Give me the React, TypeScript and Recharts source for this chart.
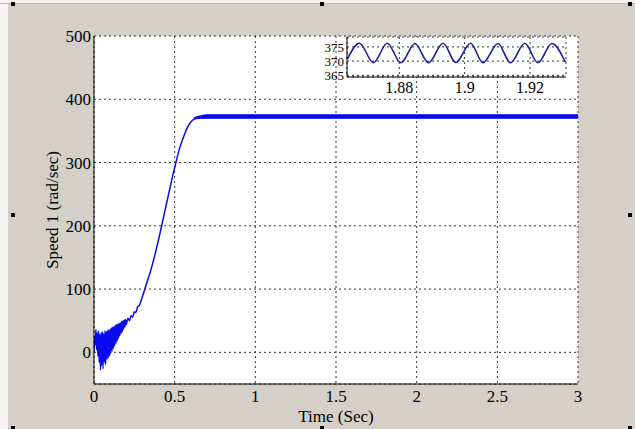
import { ComposedChart, LineChart, Line, Area, XAxis, YAxis, CartesianGrid } from 'recharts';

// main trace (sec, rad/sec)
const mainTime = [
  0, 0.004, 0.008, 0.012, 0.016, 0.02, 0.024, 0.028, 0.032, 0.036, 0.04, 0.044, 0.048, 0.052, 0.056,
  0.06, 0.064, 0.068, 0.072, 0.076, 0.08, 0.084, 0.088, 0.092, 0.096, 0.1, 0.104, 0.108, 0.112,
  0.116, 0.12, 0.124, 0.128, 0.132, 0.136, 0.14, 0.144, 0.148, 0.152, 0.156, 0.16, 0.164, 0.168,
  0.172, 0.176, 0.18, 0.184, 0.188, 0.192, 0.196, 0.2, 0.21, 0.22, 0.23, 0.24, 0.25, 0.26, 0.27,
  0.28, 0.3, 0.32, 0.35, 0.4, 0.45, 0.5, 0.53, 0.56, 0.58, 0.6, 0.62, 0.64, 0.67, 0.7,
];
const mainSpeed = [
  0, 26, 12, 36, 4, 31, -6, 34, -16, 29, -28, 31, -21, 33, -26,
  30, -16, 34, -19, 33, -11, 35, -9, 36, -6, 37, -2, 39, 2,
  40, 6, 41, 10, 43, 14, 44, 18, 45, 22, 46, 26, 47, 30,
  49, 33, 50, 37, 51, 40, 52, 44, 54, 50, 58, 56, 64, 63, 72,
  74, 88, 104, 128, 178, 236, 292, 322, 344, 356, 364, 368.5, 370.8, 372.3, 372.7,
];

// steady-state ripple band
const bandTime = [0.62, 0.7, 3];
const bandLow = [369, 370, 370];
const bandHigh = [371, 375.5, 375.5];

// zoomed inset: peaks and troughs
const insetTime = [
  1.8641, 1.8678, 1.8721, 1.8763, 1.8805, 1.8848, 1.8889, 1.8934, 1.8973,
  1.9018, 1.9056, 1.9102, 1.914, 1.9184, 1.9224, 1.9267, 1.9308,
];
const insetSpeed = [
  370.7, 376.3, 369.4, 376.3, 369.4, 376.2, 369.4, 376.3, 369.5,
  376.3, 369.4, 376.2, 369.4, 376.3, 369.4, 376.2, 369.6,
];

const xTicks = [0, 0.5, 1, 1.5, 2, 2.5, 3];
const yTicks = [0, 100, 200, 300, 400, 500];
const insetXTicks = [1.88, 1.9, 1.92];
const insetYTicks = [365, 370, 375];

const mainData = mainTime.map((t, i) => ({ t, speed: mainSpeed[i] }));
const bandData = bandTime.map((t, i) => ({ t, band: [bandLow[i], bandHigh[i]] }));
const insetData = insetTime.map((t, i) => ({ t, speed: insetSpeed[i] }));

const font = '"Liberation Serif", "Times New Roman", serif';
const bg = '#d4d0c8';

const handles = [
  [13, 4], [322, 4], [630, 4],
  [13, 215], [630, 215],
  [13, 428], [322, 428], [630, 428],
];

export default function App() {
  return (
    <div style={{ position: 'absolute', left: 0, top: 0, width: 635, height: 429, background: bg, overflow: 'hidden', fontFamily: font }}>
      <div style={{ position: 'absolute', left: 0, top: 0, width: 8, height: 429, background: '#f4f4f2' }} />
      <div style={{ position: 'absolute', left: 0, top: 0, width: 635, height: 3, background: '#f4f4f2', borderBottom: '1px solid #b8b4ac' }} />

      <div style={{ position: 'absolute', left: 0, top: 0 }}>
        <ComposedChart width={635} height={429} margin={{ top: 36, right: 57, bottom: 3, left: 34 }}>
          <CartesianGrid stroke="#333" strokeDasharray="2 3" fill="#fff" fillOpacity={1} />
          <XAxis
            dataKey="t"
            type="number"
            domain={[0, 3]}
            ticks={xTicks}
            allowDataOverflow
            height={42}
            tickLine={false}
            tickSize={3}
            tickMargin={3}
            axisLine={{ stroke: '#000' }}
            tick={{ fill: '#000', fontSize: 17, fontFamily: font }}
            label={{ value: 'Time (Sec)', position: 'insideBottom', offset: 4, fill: '#000', fontSize: 17, fontFamily: font }}
          />
          <XAxis xAxisId="top" orientation="top" dataKey="t" type="number" domain={[0, 3]} height={0} tick={false} tickLine={false} axisLine={{ stroke: '#000' }} />
          <YAxis
            type="number"
            domain={[-50, 500]}
            ticks={yTicks}
            allowDataOverflow
            width={60}
            tickLine={false}
            tickSize={3}
            tickMargin={0}
            axisLine={{ stroke: '#000' }}
            tick={{ fill: '#000', fontSize: 17, fontFamily: font }}
            label={{ value: 'Speed 1 (rad/sec)', angle: -90, position: 'insideLeft', offset: 18, textAnchor: 'middle', fill: '#000', fontSize: 17, fontFamily: font }}
          />
          <YAxis yAxisId="right" orientation="right" domain={[-50, 500]} width={0} tick={false} tickLine={false} axisLine={{ stroke: '#000' }} />
          <Area data={bandData} dataKey="band" type="monotone" stroke="#0a0af0" strokeWidth={1} fill="#0a0af0" fillOpacity={1} isAnimationActive={false} />
          <Line data={mainData} dataKey="speed" type="monotone" stroke="#0a0af0" strokeWidth={1.5} dot={false} isAnimationActive={false} />
        </ComposedChart>
      </div>

      <div style={{ position: 'absolute', left: 300, top: 30, fontFamily: font }}>
        <LineChart width={280} height={75} data={insetData} margin={{ top: 7, right: 14, bottom: 8, left: 17 }}>
          <CartesianGrid stroke="#333" strokeDasharray="2 3" fill="#fff" fillOpacity={1} />
          <XAxis
            dataKey="t"
            type="number"
            domain={[1.864, 1.931]}
            ticks={insetXTicks}
            allowDataOverflow
            height={20}
            tickLine={false}
            tickSize={2}
            tickMargin={3}
            interval={0}
            axisLine={{ stroke: '#000' }}
            tick={{ fill: '#000', fontSize: 16, fontFamily: font }}
          />
          <XAxis xAxisId="top" orientation="top" dataKey="t" type="number" domain={[1.864, 1.931]} height={0} tick={false} tickLine={false} axisLine={{ stroke: '#000' }} />
          <YAxis
            type="number"
            domain={[364.4, 378.5]}
            ticks={insetYTicks}
            allowDataOverflow
            width={30}
            tickLine={false}
            tickSize={2}
            tickMargin={1}
            interval={0}
            axisLine={{ stroke: '#000' }}
            tick={{ fill: '#000', fontSize: 13, fontFamily: font }}
          />
          <YAxis yAxisId="right" orientation="right" domain={[364.4, 378.5]} width={0} tick={false} tickLine={false} axisLine={{ stroke: '#000' }} />
          <Line dataKey="speed" type="monotone" stroke="#1c1c9c" strokeWidth={1.6} dot={false} isAnimationActive={false} />
        </LineChart>
      </div>

      {handles.map(([x, y], i) => (
        <div key={i} style={{ position: 'absolute', left: x - 2, top: y - 2, width: 4, height: 4, background: '#000' }} />
      ))}
    </div>
  );
}
